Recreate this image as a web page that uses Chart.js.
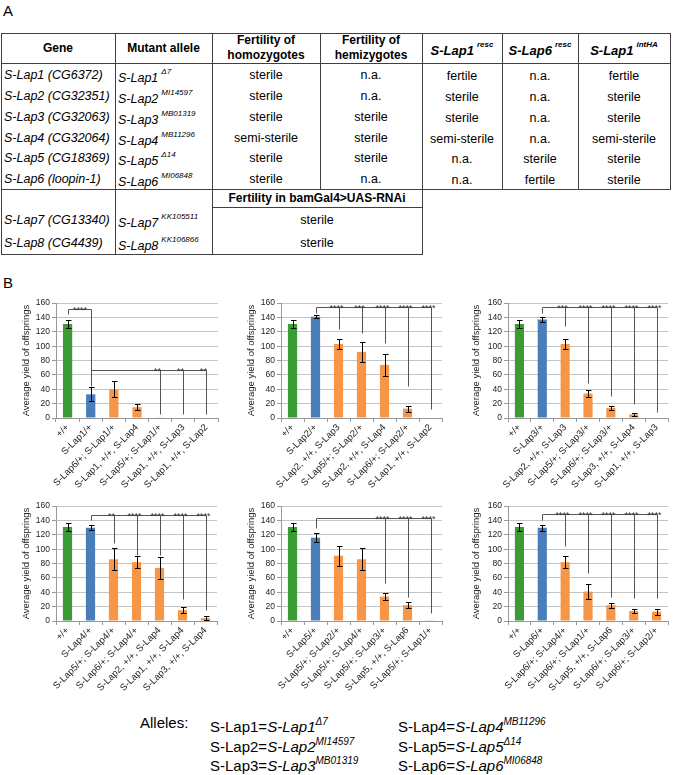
<!DOCTYPE html>
<html>
<head>
<meta charset="utf-8">
<script src="https://cdn.jsdelivr.net/npm/chart.js@4.4.1/dist/chart.umd.min.js"></script>
<style>
  body { margin: 0; background: #fff; font-family: 'Liberation Sans', Arial, sans-serif; color: #000; }
  #page { position: relative; width: 678px; height: 775px; overflow: hidden; }
  .ln { position: absolute; background: #404040; }
  .tx { position: absolute; white-space: nowrap; font-size: 12.5px; height: 16px; line-height: 16px; }
  .c { text-align: center; }
  .l { text-align: left; padding-left: 3px; box-sizing: border-box; }
  .i { font-style: italic; }
  .b { font-weight: bold; font-size: 12px; }
  .h { font-weight: bold; font-size: 13px; }
  .tx sup { font-size: 8px; position: relative; top: -3px; margin-left: 3px; }
  canvas { position: absolute; }
  .big { position: absolute; font-size: 15px; }
  .al { position: absolute; font-size: 15px; line-height: 15.5px; white-space: nowrap; }
  .al sup { font-size: 10px; position: relative; top: -1px; }
</style>
</head>
<body>
<div id="page">
  <div class="big" style="left:3px; top:2px;">A</div>
  <div class="big" style="left:3px; top:274px;">B</div>
  <div id="tbl"></div>

  <canvas id="c1" width="225" height="210" style="left:0px; top:296px;"></canvas>
  <canvas id="c2" width="225" height="210" style="left:225px; top:296px;"></canvas>
  <canvas id="c3" width="228" height="210" style="left:450px; top:296px;"></canvas>
  <canvas id="c4" width="225" height="210" style="left:0px; top:499px;"></canvas>
  <canvas id="c5" width="225" height="210" style="left:225px; top:499px;"></canvas>
  <canvas id="c6" width="228" height="210" style="left:450px; top:499px;"></canvas>

  <div class="al" style="left:140px; top:715px;">Alleles:</div>
  <div class="al" style="left:210px; top:715px;">S-Lap1=<i>S-Lap1<sup>Δ7</sup></i><br>S-Lap2=<i>S-Lap2<sup>MI14597</sup></i><br>S-Lap3=<i>S-Lap3<sup>MB01319</sup></i></div>
  <div class="al" style="left:398px; top:715px;">S-Lap4=<i>S-Lap4<sup>MB11296</sup></i><br>S-Lap5=<i>S-Lap5<sup>Δ14</sup></i><br>S-Lap6=<i>S-Lap6<sup>MI06848</sup></i></div>
</div>

<script>
// ---- Table A data ----
const genes = ["S-Lap1 (CG6372)", "S-Lap2 (CG32351)", "S-Lap3 (CG32063)", "S-Lap4 (CG32064)", "S-Lap5 (CG18369)", "S-Lap6 (loopin-1)"];
const alleles = ["S-Lap1", "S-Lap2", "S-Lap3", "S-Lap4", "S-Lap5", "S-Lap6"];
const alleleSup = ["Δ7", "MI14597", "MB01319", "MB11296", "Δ14", "MI06848"];
const homozygotes = ["sterile", "sterile", "sterile", "semi-sterile", "sterile", "sterile"];
const hemizygotes = ["n.a.", "n.a.", "sterile", "sterile", "sterile", "n.a."];
const lap1Resc = ["fertile", "sterile", "sterile", "semi-sterile", "n.a.", "n.a."];
const lap6Resc = ["n.a.", "n.a.", "n.a.", "n.a.", "sterile", "fertile"];
const lap1IntHA = ["fertile", "sterile", "sterile", "semi-sterile", "sterile", "sterile"];
const rnaiGenes = ["S-Lap7 (CG13340)", "S-Lap8 (CG4439)"];
const rnaiAlleles = ["S-Lap7", "S-Lap8"];
const rnaiSup = ["KK105511", "KK106866"];
const rnaiFertility = ["sterile", "sterile"];

// ---- Panel B data ----
const labels1 = ["+/+", "S-Lap1/+", "S-Lap6/+; S-Lap1/+", "S-Lap1, +/+, S-Lap4", "S-Lap5/+; S-Lap1/+", "S-Lap1, +/+, S-Lap3", "S-Lap1, +/+, S-Lap2"];
const yield1 = [131, 33, 40, 15, 1, 0, 0];
const err1 = [5, 10, 11, 4, 0, 0, 0];

const labels2 = ["+/+", "S-Lap2/+", "S-Lap2, +/+, S-Lap3", "S-Lap5/+; S-Lap2/+", "S-Lap2, +/+, S-Lap4", "S-Lap6/+; S-Lap2/+", "S-Lap1, +/+, S-Lap2"];
const yield2 = [131, 141, 103, 92, 74, 13, 0];
const err2 = [5, 2, 7, 14, 15, 4, 0];

const labels3 = ["+/+", "S-Lap3/+", "S-Lap2, +/+, S-Lap3", "S-Lap5/+; S-Lap3/+", "S-Lap6/+; S-Lap3/+", "S-Lap3, +/+, S-Lap4", "S-Lap1, +/+, S-Lap3"];
const yield3 = [131, 137, 103, 34, 14, 5, 0];
const err3 = [5, 3, 7, 5, 3, 2.5, 0];

const labels4 = ["+/+", "S-Lap4/+", "S-Lap5/+; S-Lap4/+", "S-Lap6/+; S-Lap4/+", "S-Lap2, +/+, S-Lap4", "S-Lap1, +/+, S-Lap4", "S-Lap3, +/+, S-Lap4"];
const yield4 = [131, 130, 86, 82, 74, 15, 4];
const err4 = [5, 3, 15, 8, 15, 4, 2.5];

const labels5 = ["+/+", "S-Lap5/+", "S-Lap5/+; S-Lap2/+", "S-Lap5/+; S-Lap4/+", "S-Lap5/+; S-Lap3/+", "S-Lap5, +/+, S-Lap6", "S-Lap5/+; S-Lap1/+"];
const yield5 = [131, 116, 91, 86, 34, 22, 1];
const err5 = [5, 6, 14, 15, 5, 4, 0];

const labels6 = ["+/+", "S-Lap6/+", "S-Lap6/+; S-Lap4/+", "S-Lap6/+; S-Lap1/+", "S-Lap5, +/+, S-Lap6", "S-Lap6/+; S-Lap3/+", "S-Lap6/+; S-Lap2/+"];
const yield6 = [131, 130, 82, 41, 22, 14, 13];
const err6 = [5, 4, 8, 10, 3.5, 3, 4];

// significance brackets: line level, drop from reference bar, and drops to each compared bar
const sig1 = [
  { from: 0, level: 152, fromDrop: 145, targets: [{ i: 1, drop: 45, stars: "****", mid: true }] },
  { from: 1, level: 67, fromDrop: 46, targets: [{ i: 4, drop: 5, stars: "**" }, { i: 5, drop: 5, stars: "**" }, { i: 6, drop: 5, stars: "**" }] }
];
const sig2 = [{ from: 1, level: 155, fromDrop: 146, targets: [
  { i: 2, drop: 124, stars: "****" }, { i: 3, drop: 118, stars: "***" }, { i: 4, drop: 104, stars: "****" },
  { i: 5, drop: 44, stars: "****" }, { i: 6, drop: 12, stars: "****" }] }];
const sig3 = [{ from: 1, level: 154, fromDrop: 146, targets: [
  { i: 2, drop: 128, stars: "***" }, { i: 3, drop: 49, stars: "****" }, { i: 4, drop: 30, stars: "****" },
  { i: 5, drop: 19, stars: "****" }, { i: 6, drop: 9, stars: "****" }] }];
const sig4 = [{ from: 1, level: 148, fromDrop: 141, targets: [
  { i: 2, drop: 108, stars: "**" }, { i: 3, drop: 92, stars: "****" }, { i: 4, drop: 92, stars: "****" },
  { i: 5, drop: 30, stars: "****" }, { i: 6, drop: 16, stars: "****" }] }];
const sig5 = [{ from: 1, level: 143, fromDrop: 129, targets: [
  { i: 4, drop: 53, stars: "****" }, { i: 5, drop: 34, stars: "****" }, { i: 6, drop: 11, stars: "****" }] }];
const sig6 = [{ from: 1, level: 149, fromDrop: 140, targets: [
  { i: 2, drop: 104, stars: "****" }, { i: 3, drop: 67, stars: "****" }, { i: 4, drop: 34, stars: "****" },
  { i: 5, drop: 32, stars: "****" }, { i: 6, drop: 32, stars: "****" }] }];

// ---- build table ----
const tbl = document.getElementById("tbl");
const colX = [1, 115, 212, 320, 422, 502, 578, 670];
const rowY = [75, 96, 117, 138, 158, 179];

function hline(x1, x2, y) {
  const d = document.createElement("div");
  d.className = "ln";
  d.style.cssText = `left:${x1}px; top:${y}px; width:${x2 - x1 + 1}px; height:1px;`;
  tbl.appendChild(d);
}
function vline(x, y1, y2) {
  const d = document.createElement("div");
  d.className = "ln";
  d.style.cssText = `left:${x}px; top:${y1}px; width:1px; height:${y2 - y1 + 1}px;`;
  tbl.appendChild(d);
}
function cell(x1, x2, yc, html, cls) {
  const d = document.createElement("div");
  d.className = "tx " + cls;
  d.style.cssText = `left:${x1}px; width:${x2 - x1}px; top:${yc - 8}px;`;
  d.innerHTML = html;
  tbl.appendChild(d);
}

hline(1, 670, 33); hline(1, 670, 63); hline(1, 670, 189);
hline(212, 422, 207); hline(1, 422, 254);
[1, 115, 212, 422].forEach(x => vline(x, 33, 254));
[320, 502, 578, 670].forEach(x => vline(x, 33, 189));

cell(colX[0], colX[1], 48, "Gene", "c b");
cell(colX[1], colX[2], 48, "Mutant allele", "c b");
cell(colX[2], colX[3], 40, "Fertility of", "c b");
cell(colX[2], colX[3], 55, "homozygotes", "c b");
cell(colX[3], colX[4], 40, "Fertility of", "c b");
cell(colX[3], colX[4], 55, "hemizygotes", "c b");
cell(colX[4], colX[5], 48, "<i>S-Lap1<sup>resc</sup></i>", "c h");
cell(colX[5], colX[6], 48, "<i>S-Lap6<sup>resc</sup></i>", "c h");
cell(colX[6], colX[7], 48, "<i>S-Lap1<sup>intHA</sup></i>", "c h");

genes.forEach((g, r) => {
  const y = rowY[r];
  cell(colX[0], colX[1], y, g, "l i");
  cell(colX[1], colX[2], y, alleles[r] + "<sup>" + alleleSup[r] + "</sup>", "l i");
  cell(colX[2], colX[3], y, homozygotes[r], "c");
  cell(colX[3], colX[4], y, hemizygotes[r], "c");
  cell(colX[4], colX[5], y + 1, lap1Resc[r], "c");
  cell(colX[5], colX[6], y + 1, lap6Resc[r], "c");
  cell(colX[6], colX[7], y + 1, lap1IntHA[r], "c");
});
cell(colX[2], colX[4], 198, "Fertility in bamGal4&gt;UAS-RNAi", "c b");
rnaiGenes.forEach((g, r) => {
  const y = [220, 243][r];
  cell(colX[0], colX[1], y, g, "l i");
  cell(colX[1], colX[2], y, rnaiAlleles[r] + "<sup>" + rnaiSup[r] + "</sup>", "l i");
  cell(colX[2], colX[4], y, rnaiFertility[r], "c");
});

// ---- charts ----
const FONT = "'Liberation Sans', Arial, sans-serif";
const barColors = ["#3b9b35", "#4a7ebb", "#f79646", "#f79646", "#f79646", "#f79646", "#f79646"];

const errorBars = {
  id: "errorBars",
  afterDatasetsDraw(chart) {
    const ds = chart.data.datasets[0];
    const meta = chart.getDatasetMeta(0);
    const y = chart.scales.y;
    const ctx = chart.ctx;
    ctx.save();
    ctx.strokeStyle = "#000";
    ctx.lineWidth = 1;
    meta.data.forEach((bar, i) => {
      const e = ds.errors[i];
      if (!e) return;
      const v = ds.data[i];
      const top = Math.round(y.getPixelForValue(v + e)) + 0.5;
      const bot = Math.round(y.getPixelForValue(v - e)) + 0.5;
      const x = Math.round(bar.x) + 0.5;
      ctx.beginPath();
      ctx.moveTo(x, top); ctx.lineTo(x, bot);
      ctx.moveTo(x - 2.5, top); ctx.lineTo(x + 3, top);
      ctx.moveTo(x - 2.5, bot); ctx.lineTo(x + 3, bot);
      ctx.stroke();
    });
    ctx.restore();
  }
};

const brackets = {
  id: "brackets",
  afterDatasetsDraw(chart) {
    const list = chart.data.datasets[0].sig || [];
    const xs = chart.scales.x, ys = chart.scales.y, ctx = chart.ctx;
    const px = i => Math.round(xs.getPixelForValue(i)) + 0.5;
    const py = v => Math.round(ys.getPixelForValue(v)) + 0.5;
    ctx.save();
    ctx.strokeStyle = "#555";
    ctx.lineWidth = 1;
    list.forEach(b => {
      const last = b.targets[b.targets.length - 1].i;
      ctx.beginPath();
      ctx.moveTo(px(b.from), py(b.fromDrop));
      ctx.lineTo(px(b.from), py(b.level));
      ctx.lineTo(px(last), py(b.level));
      b.targets.forEach(t => {
        ctx.moveTo(px(t.i), py(b.level));
        ctx.lineTo(px(t.i), py(t.drop));
      });
      ctx.stroke();
    });
    ctx.fillStyle = "#333";
    ctx.font = "9px " + FONT;
    ctx.textAlign = "center";
    ctx.textBaseline = "alphabetic";
    list.forEach(b => {
      b.targets.forEach(t => {
        const x = t.mid ? (px(b.from) + px(t.i)) / 2 : px(t.i) - 3;
        ctx.fillText(t.stars, x, py(b.level) + 3);
      });
    });
    ctx.restore();
  }
};

function makeChart(id, labels, values, errors, sig, axisWidth, rightPad) {
  new Chart(document.getElementById(id), {
    type: "bar",
    data: {
      labels: labels,
      datasets: [{
        data: values,
        errors: errors,
        sig: sig,
        backgroundColor: barColors,
        barPercentage: 0.4,
        categoryPercentage: 1
      }]
    },
    options: {
      responsive: false,
      animation: false,
      layout: { padding: { top: 7, right: rightPad, left: 0, bottom: 0 } },
      plugins: {
        legend: { display: false },
        tooltip: { enabled: false }
      },
      scales: {
        x: {
          offset: true,
          grid: { drawOnChartArea: false, offset: true, tickLength: 4, color: "#999" },
          border: { color: "#999" },
          ticks: {
            autoSkip: false, minRotation: 45, maxRotation: 45, padding: 0,
            color: "#222", font: { size: 9.5, family: FONT }
          },
          afterFit: s => { s.height = 88; }
        },
        y: {
          min: 0, max: 160,
          grid: { color: "#c4c4c4", tickLength: 4, tickColor: "#999" },
          border: { color: "#999" },
          ticks: { stepSize: 20, padding: 2, color: "#222", font: { size: 8.5, family: FONT } },
          title: {
            display: true, text: "Average yield of offsprings", color: "#222",
            font: { size: 9.5, family: FONT }, padding: { top: 21, bottom: 0 }
          },
          afterFit: s => { s.width = axisWidth; }
        }
      }
    },
    plugins: [errorBars, brackets]
  });
}

makeChart("c1", labels1, yield1, err1, sig1, 56, 7);
makeChart("c2", labels2, yield2, err2, sig2, 56, 8);
makeChart("c3", labels3, yield3, err3, sig3, 58, 10);
makeChart("c4", labels4, yield4, err4, sig4, 56, 8);
makeChart("c5", labels5, yield5, err5, sig5, 56, 8);
makeChart("c6", labels6, yield6, err6, sig6, 58, 10);
</script>
</body>
</html>
